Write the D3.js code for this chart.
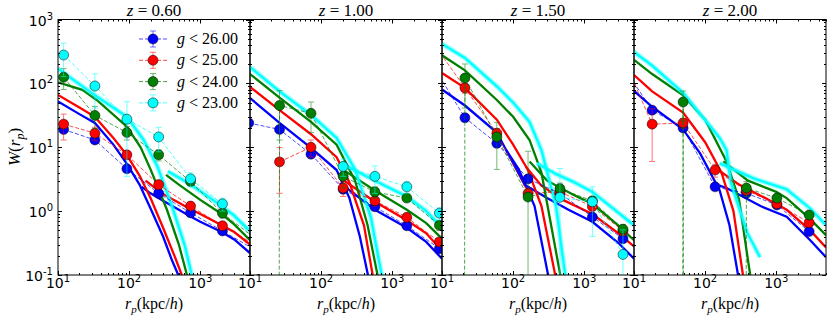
<!DOCTYPE html>
<head>
    <meta charset="utf-8">
    <script src="https://d3js.org/d3.v7.min.js"></script>
    <style>
        *{ margin:0; padding:0; }
        body{ background:#fff; }
        text{ font-family:'DejaVu Sans', sans-serif; fill:#000; }
        .math{ font-family:'Liberation Serif', serif; }
    </style>
</head>
<body>
<svg id="chart" width="830" height="319"></svg>
<script>

    //panel titles and legend cuts
    let redshifts = ["0.60", "1.00", "1.50", "2.00"];
    let cuts = ["26.00", "25.00", "24.00", "23.00"];
    let colors = ["#0000ff", "#ff0000", "#008000", "#00ffff"];

    //measured W(rp): rows are g<26, g<25, g<24, g<23 ; negative = below zero
    let rp_z060 = [12, 33, 93, 260, 730, 2050, 5800];
    let w_z060 = [
        [19, 13, 4.6, 1.9, 0.94, 0.49, 0.25],
        [23, 16.6, 7.6, 2.6, 1.2, 0.59, 0.3],
        [125, 31.5, 17, 7.6, 2.9, 0.93, 0.38],
        [278, 91, 27.5, 14.5, 3.2, 1.3, 0.45]
    ];
    let err_z060 = [
        [2, 1.5, 0.5, 0.25, 0.1, 0.06, 0.05],
        [10, 4, 1, 0.4, 0.15, 0.08, 0.05],
        [45, 12, 4, 1.5, 0.4, 0.15, 0.06],
        [150, 50, 24, 6, 0.8, 0.3, 0.1]
    ];

    let rp_z100 = [9.6, 26, 72, 204, 570, 1600, 4600];
    let w_z100 = [
        [24, 19, 7.8, 2.2, 1.17, 0.59, 0.26],
        [null, 5.9, 10, 2.3, 1.45, 0.8, 0.33],
        [-1, 45, 34, 3.5, 2.0, 1.6, 0.6],
        [null, null, null, 5.0, 3.5, 2.4, 0.93]
    ];
    let err_z100 = [
        [3, 2, 1, 0.3, 0.15, 0.07, 0.04],
        [0, 4, 3, 0.6, 0.25, 0.12, 0.05],
        [0, 32, 17, 1.2, 0.4, 0.2, 0.1],
        [0, 0, 0, 1.5, 1.6, 0.5, 0.2]
    ];

    let rp_z150 = [7.5, 21, 59, 162, 455, 1300, 3500];
    let w_z150 = [
        [187, 29, 11.5, 3.2, 1.9, 0.81, 0.37],
        [430, 85, 16.6, 1.9, 2.0, 1.18, 0.49],
        [-1, 121, 14.5, 1.66, 2.25, 1.45, 0.52],
        [null, null, null, null, 1.65, 1.4, 0.21]
    ];
    let err_z150 = [
        [20, 4, 1.5, 0.4, 0.3, 0.1, 0.05],
        [50, 15, 3, 0.4, 0.3, 0.15, 0.07],
        [0, 80, 10, 7, 0.5, 0.2, 0.1],
        [0, 0, 0, 0, 3, 1.0, 0.3]
    ];

    let rp_z200 = [6.4, 18, 49, 138, 380, 1020, 2900];
    let w_z200 = [
        [216, 38, 20, 2.4, 1.9, 1.25, 0.48],
        [320, 23, 24, 4.4, 2.1, 1.3, 0.66],
        [null, -1, 51, -1, 2.3, 1.6, 0.87],
        [null, null, null, null, null, null, null]
    ];
    let err_z200 = [
        [20, 4, 2, 0.3, 0.2, 0.1, 0.05],
        [30, 17, 4, 1, 0.3, 0.15, 0.08],
        [0, 0, 25, 0, 0.6, 0.2, 0.1],
        [0, 0, 0, 0, 0, 0, 0]
    ];

    //model curves [rp, W]: one-halo term and total
    let oneHalo_z060 = [
        [[10,52],[20,33],[33,24],[60,11],[93,5.5],[140,2.6],[200,1.1],[300,0.4],[400,0.17],[490,0.1],[560,0.06]],
        [[10,66],[20,42],[33,30],[60,14],[93,7.5],[140,3.6],[200,1.6],[300,0.55],[450,0.18],[550,0.1],[620,0.06]],
        [[10,104],[22,79],[35,55],[93,21],[145,10],[200,4.5],[340,1.05],[500,0.3],[650,0.1],[720,0.06]],
        [[10,170],[33,65],[93,30],[160,13],[250,5],[400,1.2],[600,0.3],[760,0.1],[850,0.06]]
    ];
    let total_z060 = [
        [[150,2.4],[200,1.9],[300,1.45],[500,1.05],[700,0.85],[1000,0.68],[1500,0.55],[2000,0.47],[3000,0.36],[5000,0.22]],
        [[170,3.0],[300,1.85],[500,1.35],[700,1.1],[1000,0.9],[2000,0.6],[3000,0.47],[5000,0.3]],
        [[330,3.7],[500,2.6],[1000,1.5],[2000,0.9],[3000,0.62],[5000,0.35]],
        [[350,4.2],[700,2.7],[1500,1.5],[3000,0.85],[5000,0.48]]
    ];

    let oneHalo_z100 = [
        [[10,59],[26,24],[72,9.8],[165,4.4],[250,1.6],[350,0.4],[455,0.1],[520,0.06]],
        [[10,88],[26,38],[72,16],[165,7],[250,2.8],[400,0.6],[530,0.1],[600,0.06]],
        [[10,140],[26,60],[72,25],[165,11],[300,3.0],[450,0.6],[620,0.1],[700,0.06]],
        [[10,180],[26,75],[72,32],[165,14],[300,4.5],[500,0.8],[710,0.1],[800,0.06]]
    ];
    let total_z100 = [
        [[185,2.75],[570,1.05],[1600,0.55],[3000,0.33],[5000,0.18]],
        [[185,3.3],[570,1.4],[1600,0.72],[3000,0.45],[5000,0.24]],
        [[200,4.5],[570,2.1],[1600,1.05],[3000,0.65],[5000,0.37]],
        [[185,5.7],[570,3.0],[1600,1.7],[3000,1.0],[5000,0.55]]
    ];

    let oneHalo_z150 = [
        [[10,80],[21,45],[59,17],[80,9],[120,4.5],[200,1.2],[310,0.1],[350,0.06]],
        [[10,145],[21,85],[59,27],[100,11],[160,4.5],[250,1.2],[390,0.1],[430,0.06]],
        [[10,275],[21,160],[59,55],[100,30],[170,13],[250,4],[460,0.1],[500,0.06]],
        [[10,415],[21,250],[59,90],[100,50],[170,25],[250,9],[400,1.2],[540,0.1],[600,0.06]]
    ];
    let total_z150 = [
        [[80,9],[145,2.6],[300,1.6],[600,1.05],[1300,0.68],[3000,0.32],[5000,0.18]],
        [[150,5],[250,2.5],[500,1.5],[1300,0.9],[3000,0.45],[5000,0.28]],
        [[170,6],[300,3.0],[700,1.8],[1300,1.3],[3000,0.6],[5000,0.35]],
        [[216,5.6],[400,3.8],[690,2.9],[1300,2.0],[3000,0.95],[5000,0.6]]
    ];

    let oneHalo_z200 = [
        [[10,76],[18,43],[49,19],[85,8],[160,2.1],[220,0.6],[290,0.1],[320,0.06]],
        [[10,135],[18,75],[49,35],[100,12],[170,4],[250,1],[340,0.1],[370,0.06]],
        [[10,233],[18,140],[49,65],[100,27],[200,6],[300,1.5],[430,0.1],[470,0.06]],
        [[10,310],[18,190],[49,71],[160,14],[200,9],[230,2.8],[390,0.46],[590,0.19]]
    ];
    let total_z200 = [
        [[160,2.5],[200,2.3],[600,1.2],[1400,0.82],[3000,0.35],[5000,0.19]],
        [[150,4.5],[300,2.6],[700,1.6],[1400,1.05],[3000,0.5],[5000,0.27]],
        [[180,6],[400,3],[1000,2.0],[1400,1.6],[3000,0.75],[5000,0.42]],
        [[160,5.6],[500,3.2],[1400,2.2],[3000,1.1],[5000,0.6]]
    ];

    let panels = [
        {rp: rp_z060, w: w_z060, err: err_z060, oneHalo: oneHalo_z060, total: total_z060},
        {rp: rp_z100, w: w_z100, err: err_z100, oneHalo: oneHalo_z100, total: total_z100},
        {rp: rp_z150, w: w_z150, err: err_z150, oneHalo: oneHalo_z150, total: total_z150},
        {rp: rp_z200, w: w_z200, err: err_z200, oneHalo: oneHalo_z200, total: total_z200}
    ];


    //layout
    let svg = d3.select("#chart");
    let plotLeft = 58, panelW = 192, plotTop = 19.5, plotBottom = 275;
    let tiny = 1e-300;

    let y = d3.scaleLog().domain([0.1, 1000]).range([plotBottom, plotTop]);


    //"10^n" label helper
    let powLabel = (sel, n) => {
        sel.append("tspan").text("10");
        sel.append("tspan").attr("dy", -6).attr("font-size", 10).text(n);
    };


    panels.forEach((p, pi) => {
        let x0 = plotLeft + pi * panelW;
        let x = d3.scaleLog().domain([10, 5000]).range([x0, x0 + panelW]);
        let g = svg.append("g");

        g.append("clipPath").attr("id", "clip" + pi)
            .append("rect").attr("x", x0).attr("y", plotTop)
            .attr("width", panelW).attr("height", plotBottom - plotTop);

        let plot = g.append("g").attr("clip-path", "url(#clip" + pi + ")");

        let line = d3.line()
            .defined(d => d[1] !== null)
            .x(d => x(d[0]))
            .y(d => y(d[1] > 0 ? d[1] : tiny));

        //model lines
        [0, 1, 2, 3].forEach(ci => {
            [p.oneHalo[ci], p.total[ci]].forEach(curve => {
                if (ci == 3) {
                    plot.append("path").datum(curve).attr("d", line)
                        .attr("fill", "none").attr("stroke", colors[ci])
                        .attr("stroke-width", 5).attr("opacity", 0.4);
                }
                plot.append("path").datum(curve).attr("d", line)
                    .attr("fill", "none").attr("stroke", colors[ci])
                    .attr("stroke-width", 2.3);
            });
        });

        //measurements
        [0, 1, 2, 3].forEach(ci => {
            let pts = p.rp.map((r, i) => [r, p.w[ci][i], p.err[ci][i]]);

            plot.append("path").datum(pts).attr("d", line)
                .attr("fill", "none").attr("stroke", colors[ci])
                .attr("stroke-width", 1).attr("stroke-dasharray", "4,2")
                .attr("opacity", 0.7);

            let good = pts.filter(d => d[1] !== null && d[1] > 0);

            //error bars
            good.filter(d => d[2] > 0).forEach(d => {
                let hi = y(d[1] + d[2]);
                let lo = d[1] - d[2] > 0 ? y(d[1] - d[2]) : plotBottom + 5;
                let cx = x(d[0]);
                let eg = plot.append("g").attr("stroke", colors[ci])
                    .attr("stroke-width", 1).attr("opacity", 0.55);
                eg.append("line").attr("x1", cx).attr("x2", cx).attr("y1", hi).attr("y2", lo);
                eg.append("line").attr("x1", cx - 3).attr("x2", cx + 3).attr("y1", hi).attr("y2", hi);
                eg.append("line").attr("x1", cx - 3).attr("x2", cx + 3).attr("y1", lo).attr("y2", lo);
            });

            plot.selectAll(null).data(good).enter()
                .append("circle")
                .attr("cx", d => x(d[0]))
                .attr("cy", d => y(d[1]))
                .attr("r", 5)
                .attr("fill", colors[ci])
                .attr("stroke", "#000").attr("stroke-width", 0.5);
        });

        //frame
        g.append("rect").attr("x", x0).attr("y", plotTop)
            .attr("width", panelW).attr("height", plotBottom - plotTop)
            .attr("fill", "none").attr("stroke", "#000").attr("stroke-width", 1);

        //x ticks
        x.ticks().forEach(t => {
            let major = Math.abs(Math.log10(t) - Math.round(Math.log10(t))) < 1e-9;
            let len = major ? 4 : 2;
            let xx = Math.round(x(t)) + 0.5;
            g.append("line").attr("x1", xx).attr("x2", xx).attr("y1", plotBottom).attr("y2", plotBottom - len).attr("stroke", "#000");
            g.append("line").attr("x1", xx).attr("x2", xx).attr("y1", plotTop).attr("y2", plotTop + len).attr("stroke", "#000");
            if (major) {
                let lab = g.append("text").attr("x", x(t)).attr("y", 288)
                    .attr("text-anchor", "middle").attr("font-size", 14);
                powLabel(lab, Math.round(Math.log10(t)));
            }
        });

        //y ticks
        y.ticks().forEach(t => {
            let major = Math.abs(Math.log10(t) - Math.round(Math.log10(t))) < 1e-9;
            let len = major ? 4 : 2;
            let yy = Math.round(y(t)) + 0.5;
            g.append("line").attr("x1", x0).attr("x2", x0 + len).attr("y1", yy).attr("y2", yy).attr("stroke", "#000");
            g.append("line").attr("x1", x0 + panelW).attr("x2", x0 + panelW - len).attr("y1", yy).attr("y2", yy).attr("stroke", "#000");
            if (major && pi == 0) {
                let lab = g.append("text").attr("x", x0 - 5).attr("y", y(t) + 6)
                    .attr("text-anchor", "end").attr("font-size", 14);
                powLabel(lab, Math.round(Math.log10(t)));
            }
        });

        //title
        let title = g.append("text").attr("class", "math")
            .attr("x", x0 + panelW / 2).attr("y", 16)
            .attr("text-anchor", "middle").attr("font-size", 17);
        title.append("tspan").attr("font-style", "italic").text("z");
        title.append("tspan").text(" = " + redshifts[pi]);

        //x label
        let xl = g.append("text").attr("class", "math")
            .attr("x", x0 + panelW / 2).attr("y", 309)
            .attr("text-anchor", "middle").attr("font-size", 16);
        xl.append("tspan").attr("font-style", "italic").text("r");
        xl.append("tspan").attr("font-style", "italic").attr("font-size", 11).attr("dy", 4).text("p");
        xl.append("tspan").attr("dy", -4).text("(kpc/");
        xl.append("tspan").attr("font-style", "italic").text("h");
        xl.append("tspan").text(")");
    });


    //y label
    let yl = svg.append("text").attr("class", "math")
        .attr("transform", "translate(20,147) rotate(-90)")
        .attr("text-anchor", "middle").attr("font-size", 17);
    yl.append("tspan").attr("font-style", "italic").text("W");
    yl.append("tspan").text("(");
    yl.append("tspan").attr("font-style", "italic").text("r");
    yl.append("tspan").attr("font-style", "italic").attr("font-size", 12).attr("dy", 4).text("p");
    yl.append("tspan").attr("dy", -4).text(")");


    //legend
    let legend = svg.append("g");
    cuts.forEach((c, i) => {
        let ly = 39 + i * 21.3;
        let lg = legend.append("g");
        lg.append("line").attr("x1", 139).attr("x2", 168).attr("y1", ly).attr("y2", ly)
            .attr("stroke", colors[i]).attr("stroke-width", 1).attr("stroke-dasharray", "4,2").attr("opacity", 0.7);
        lg.append("line").attr("x1", 153).attr("x2", 153).attr("y1", ly - 8).attr("y2", ly + 8)
            .attr("stroke", colors[i]).attr("opacity", 0.55);
        lg.append("line").attr("x1", 150).attr("x2", 156).attr("y1", ly - 8).attr("y2", ly - 8)
            .attr("stroke", colors[i]).attr("opacity", 0.55);
        lg.append("line").attr("x1", 150).attr("x2", 156).attr("y1", ly + 8).attr("y2", ly + 8)
            .attr("stroke", colors[i]).attr("opacity", 0.55);
        lg.append("circle").attr("cx", 153).attr("cy", ly).attr("r", 5)
            .attr("fill", colors[i]).attr("stroke", "#000").attr("stroke-width", 0.5);
        let t = lg.append("text").attr("class", "math").attr("x", 177).attr("y", ly + 5).attr("font-size", 16);
        t.append("tspan").attr("font-style", "italic").text("g");
        t.append("tspan").text(" < " + c);
    });

</script>
</body>
